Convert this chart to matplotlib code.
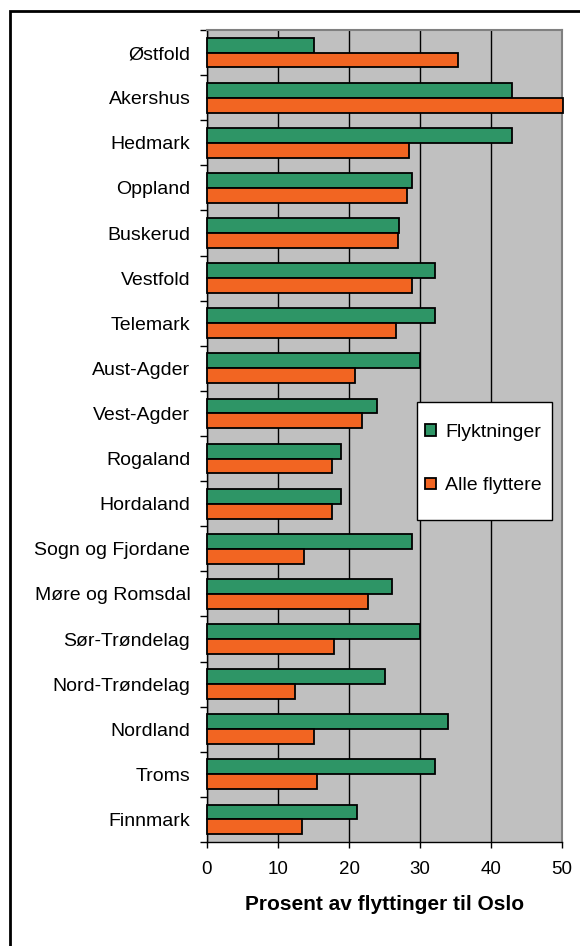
import numpy as np
import matplotlib.pyplot as plt
from matplotlib.patches import Rectangle

fylker = ['Østfold', 'Akershus', 'Hedmark', 'Oppland', 'Buskerud', 'Vestfold',
          'Telemark', 'Aust-Agder', 'Vest-Agder', 'Rogaland', 'Hordaland',
          'Sogn og Fjordane', 'Møre og Romsdal', 'Sør-Trøndelag',
          'Nord-Trøndelag', 'Nordland', 'Troms', 'Finnmark']
flyktninger = [15.0, 42.9, 42.9, 28.9, 27.1, 32.1, 32.1, 30.0, 24.0, 18.9,
               18.9, 28.9, 26.1, 30.0, 25.0, 34.0, 32.1, 21.1]
alle_flyttere = [35.3, 50.2, 28.4, 28.1, 26.9, 28.9, 26.6, 20.8, 21.9, 17.6,
                 17.6, 13.7, 22.7, 17.9, 12.4, 15.0, 15.5, 13.4]
xticks = [0, 10, 20, 30, 40, 50]

plt.rcParams['font.family'] = ['Liberation Sans', 'DejaVu Sans']

W, H = 580, 946
fig = plt.figure(figsize=(W / 100, H / 100), dpi=100)
ax = fig.add_axes([207 / W, 1 - 842 / H, 355 / W, 812 / H])

# outer frame (only left/top visible in the original)
fig.patches.append(Rectangle((10 / W, -0.05), 1.1, 1 - 11 / H + 0.05,
                             transform=fig.transFigure, fill=False,
                             edgecolor='black', linewidth=2, zorder=0))

y = np.arange(len(fylker))
h = 0.33
ax.barh(y - h / 2, flyktninger, height=h, color='#2E9566', edgecolor='black',
        linewidth=1.3, label='Flyktninger', zorder=3, clip_on=False)
ax.barh(y + h / 2, alle_flyttere, height=h, color='#F26522', edgecolor='black',
        linewidth=1.3, label='Alle flyttere', zorder=3, clip_on=False)

ax.set_facecolor('#C0C0C0')
ax.set_xlim(0, 50)
ax.set_ylim(len(fylker) - 0.5, -0.5)
ax.set_xticks(xticks)
ax.set_xticklabels([str(t) for t in xticks], fontsize=13.5)
ax.set_yticks(y)
ax.set_yticklabels(fylker, fontsize=14)
ax.tick_params(axis='y', length=0, pad=12)
ax.set_yticks(np.arange(len(fylker) + 1) - 0.5, minor=True)
ax.tick_params(axis='y', which='minor', length=5, width=1, direction='out')
ax.tick_params(axis='x', length=4, width=1, direction='out', pad=10)
ax.grid(axis='x', color='black', linewidth=1, zorder=1)
ax.set_axisbelow(True)

for side in ['top', 'right']:
    ax.spines[side].set_color('#808080')
    ax.spines[side].set_linewidth(1.5)
for side in ['left', 'bottom']:
    ax.spines[side].set_color('black')
    ax.spines[side].set_linewidth(1)

ax.set_xlabel('Prosent av flyttinger til Oslo', fontsize=15, fontweight='bold',
              labelpad=12)

# legend box drawn by hand (wide vertical padding, narrow horizontal)
fig.patches.append(Rectangle((417 / W, 1 - 520 / H), 135 / W, 118 / H,
                             transform=fig.transFigure, facecolor='white',
                             edgecolor='black', linewidth=1, zorder=5))
leg = fig.legend(loc='center left', bbox_to_anchor=(425 / W, 1 - 459 / H),
                 fontsize=14, frameon=False, handlelength=0.55,
                 handleheight=0.55, labelspacing=1.9, borderpad=0,
                 handletextpad=0.5, borderaxespad=0)
leg.set_zorder(6)

fig.savefig('out.png', dpi=100)
